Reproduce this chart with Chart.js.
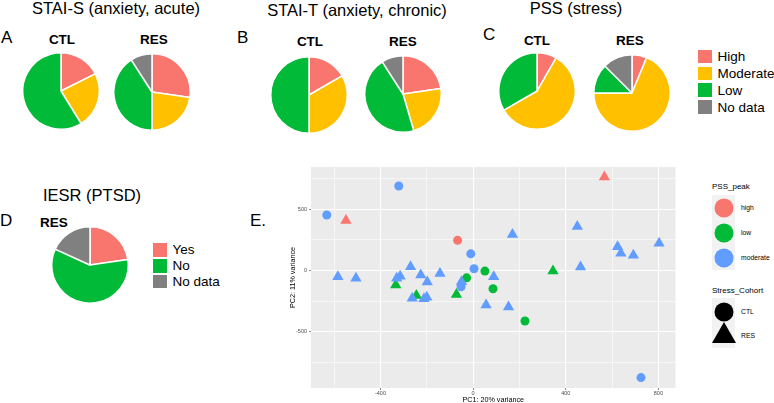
<!DOCTYPE html>
<html lang="en">
<head>
<meta charset="UTF-8" />
<title>Questionnaire pies and PCA</title>
<script src="https://cdn.jsdelivr.net/npm/chart.js"></script>
<style>
  body {
    margin: 0;
    width: 774px;
    height: 403px;
    overflow: hidden;
    background: #fff;
    position: relative;
    font-family: "Liberation Sans", Arial, sans-serif;
    color: #000;
  }
  .abs { position: absolute; white-space: nowrap; line-height: 1; }
  .title { font-size: 16.5px; width: 300px; text-align: center; }
  .letter { font-size: 17px; }
  .grp { font-size: 13.5px; font-weight: bold; width: 60px; text-align: center; }
  canvas.pie { position: absolute; }
  .lg { position: absolute; font-size: 13.5px; }
  .lg .row { display: flex; align-items: center; }
  .lg .box { width: 13.5px; height: 13.5px; margin-right: 6px; }
  /* PCA legend */
  .pl { position: absolute; color: #000; }
  .pl .ttl { font-size: 8px; line-height: 1; }
  .pl .lab { position: absolute; font-size: 6.8px; left: 29px; line-height: 1; transform: translateY(-50%); }
  .keybg { position: absolute; background: #f2f2f2; width: 23px; }
  .dot { position: absolute; border-radius: 50%; width: 19px; height: 19px; transform: translate(-50%, -50%); }
  .tri { position: absolute; width: 0; height: 0; border-left: 12.5px solid transparent;
         border-right: 12.5px solid transparent; border-bottom: 21.7px solid #000; }
</style>
</head>
<body>

<!-- panel titles -->
<div class="abs title" style="left:-34px; top:0px">STAI-S (anxiety, acute)</div>
<div class="abs title" style="left:207px; top:2px">STAI-T (anxiety, chronic)</div>
<div class="abs title" style="left:426px; top:0px">PSS (stress)</div>
<div class="abs title" style="left:-58px; top:187px">IESR (PTSD)</div>

<div class="abs letter" style="left:1px; top:29px">A</div>
<div class="abs letter" style="left:237px; top:29px">B</div>
<div class="abs letter" style="left:483px; top:26px">C</div>
<div class="abs letter" style="left:0px; top:212px">D</div>
<div class="abs letter" style="left:250px; top:212px">E.</div>

<div class="abs grp" style="left:32px; top:33px">CTL</div>
<div class="abs grp" style="left:124px; top:33px">RES</div>
<div class="abs grp" style="left:280px; top:35px">CTL</div>
<div class="abs grp" style="left:373px; top:35px">RES</div>
<div class="abs grp" style="left:507px; top:34px">CTL</div>
<div class="abs grp" style="left:600px; top:34px">RES</div>
<div class="abs grp" style="left:24px; top:216px">RES</div>

<canvas class="pie" id="pieSctl" width="78" height="78" style="left:22px; top:52px"></canvas>
<canvas class="pie" id="pieSres" width="78" height="78" style="left:113px; top:53px"></canvas>
<canvas class="pie" id="pieTctl" width="78" height="78" style="left:270px; top:56px"></canvas>
<canvas class="pie" id="pieTres" width="78" height="78" style="left:364px; top:55px"></canvas>
<canvas class="pie" id="piePctl" width="78" height="78" style="left:498px; top:52px"></canvas>
<canvas class="pie" id="piePres" width="78" height="78" style="left:593px; top:54px"></canvas>
<canvas class="pie" id="pieIres" width="78" height="78" style="left:51px; top:226px"></canvas>

<div class="lg" id="levelLegend" style="left:698px; top:48px"></div>
<div class="lg" id="iesrLegend" style="left:153px; top:242px"></div>

<!-- PCA scatter -->
<canvas id="pcaChart" width="398" height="250" style="position:absolute; left:284px; top:160px"></canvas>

<div class="pl" style="left:712px; top:0px">
  <div class="ttl" style="position:absolute; top:183px">PSS_peak</div>
  <div class="keybg" style="top:195px; height:75px"></div>
  <div class="dot" style="left:11.5px; top:208px; background:#F8766D"></div>
  <div class="dot" style="left:11.5px; top:232.5px; background:#00BA38"></div>
  <div class="dot" style="left:11.5px; top:257.5px; background:#619CFF"></div>
  <div class="lab" style="top:208px">high</div>
  <div class="lab" style="top:232.5px">low</div>
  <div class="lab" style="top:257.5px">moderate</div>

  <div class="ttl" style="position:absolute; top:287px">Stress_Cohort</div>
  <div class="keybg" style="top:298px; height:50px"></div>
  <div class="dot" style="left:11.5px; top:312px; background:#000"></div>
  <div class="tri" style="left:-0.5px; top:321.5px"></div>
  <div class="lab" style="top:312px">CTL</div>
  <div class="lab" style="top:336px">RES</div>
</div>

<script>
  Chart.defaults.font.family = "'Liberation Sans', Arial, sans-serif";
  Chart.defaults.animation = false;

  // ---- questionnaire pies (counts per level) ----
  const levelLabels = ["High", "Moderate", "Low", "No data"];
  const levelColors = ["#F8766D", "#FFC000", "#00BA38", "#808080"];

  const staiS_CTL = [3, 4, 10, 0];
  const staiS_RES = [6, 5, 9, 2];
  const staiT_CTL = [3, 6, 9, 0];
  const staiT_RES = [5, 5, 10, 2];
  const pss_CTL = [1, 7, 4, 0];
  const pss_RES = [1, 11, 2, 2];

  const iesrLabels = ["Yes", "No", "No data"];
  const iesrColors = ["#F8766D", "#00BA38", "#808080"];
  const iesr_RES = [5, 13, 4];

  // ---- PCA samples ----
  const pc1 = [
    -632, -321, -67, -10, 4, -52, 725, 51, -28, 86, 224,
    -549, 567, -334, -245, -72, 345,
    -584, -506, -270, -315, -330, -226, -198, -263, -212, -200, -143,
    -50, 89, 56, 153, 170, 450, 464, 624, 638, 692, 803
  ];
  const pc2 = [
    453, 689, 246, 136, 14, -133, -873, -5, -60, -149, -412,
    407, 762, -119, -203, -195, -5,
    -51, -64, 30, -46, -63, -37, -94, -227, -230, -218, -24,
    -92, -51, -281, -298, 293, 358, 28, 193, 141, 125, 223
  ];
  const pssPeak = [
    "moderate", "moderate", "high", "moderate", "moderate", "moderate", "moderate", "low", "low", "low", "low",
    "high", "high", "low", "low", "low", "low",
    "moderate", "moderate", "moderate", "moderate", "moderate", "moderate", "moderate", "moderate", "moderate", "moderate", "moderate",
    "moderate", "moderate", "moderate", "moderate", "moderate", "moderate", "moderate", "moderate", "moderate", "moderate", "moderate"
  ];
  const cohort = [
    "CTL", "CTL", "CTL", "CTL", "CTL", "CTL", "CTL", "CTL", "CTL", "CTL", "CTL",
    "RES", "RES", "RES", "RES", "RES", "RES",
    "RES", "RES", "RES", "RES", "RES", "RES", "RES", "RES", "RES", "RES", "RES",
    "RES", "RES", "RES", "RES", "RES", "RES", "RES", "RES", "RES", "RES", "RES"
  ];

  const pcaXTicks = [-400, 0, 400, 800];
  const pcaXMinor = [-600, -200, 200, 600];
  const pcaYTicks = [-500, 0, 500];
  const pcaYMinor = [-750, -250, 250, 750];

  const pssColors = { high: "#F8766D", low: "#00BA38", moderate: "#619CFF" };

  function makePie(id, values, colors) {
    new Chart(document.getElementById(id), {
      type: "pie",
      data: {
        labels: colors === levelColors ? levelLabels : iesrLabels,
        datasets: [{
          data: values,
          backgroundColor: colors,
          borderColor: "#ffffff",
          borderWidth: 1.5,
        }],
      },
      options: {
        responsive: false,
        events: [],
        plugins: { legend: { display: false }, tooltip: { enabled: false } },
      },
    });
  }

  makePie("pieSctl", staiS_CTL, levelColors);
  makePie("pieSres", staiS_RES, levelColors);
  makePie("pieTctl", staiT_CTL, levelColors);
  makePie("pieTres", staiT_RES, levelColors);
  makePie("piePctl", pss_CTL, levelColors);
  makePie("piePres", pss_RES, levelColors);
  makePie("pieIres", iesr_RES, iesrColors);

  function fillLegend(id, labels, colors, rowH) {
    const el = document.getElementById(id);
    labels.forEach((lab, i) => {
      const row = document.createElement("div");
      row.className = "row";
      row.style.height = rowH + "px";
      row.innerHTML = `<div class="box" style="background:${colors[i]}"></div><span>${lab}</span>`;
      el.appendChild(row);
    });
  }
  fillLegend("levelLegend", levelLabels, levelColors, 16.9);
  fillLegend("iesrLegend", iesrLabels, iesrColors, 15.9);

  // scatter datasets, first one is drawn on top
  const groups = [
    ["moderate", "CTL"], ["moderate", "RES"],
    ["high", "CTL"], ["high", "RES"],
    ["low", "CTL"], ["low", "RES"],
  ];
  const datasets = groups.map(([pss, coh]) => {
    const pts = [];
    pc1.forEach((x, i) => {
      if (pssPeak[i] === pss && cohort[i] === coh) pts.push({ x: x, y: pc2[i] });
    });
    return {
      label: pss + " " + coh,
      data: pts,
      backgroundColor: pssColors[pss],
      borderWidth: 0,
      pointStyle: coh === "CTL" ? "circle" : "triangle",
      pointRadius: coh === "CTL" ? 4.5 : 6.5,
    };
  });

  const panelBg = {
    id: "panelBg",
    beforeDraw(chart) {
      const a = chart.chartArea;
      const ctx = chart.ctx;
      ctx.save();
      ctx.fillStyle = "#EBEBEB";
      ctx.fillRect(a.left, a.top, a.width, a.height);
      ctx.restore();
    },
  };

  function gridFor(major) {
    return {
      color: "#ffffff",
      lineWidth: (c) => (major.includes(c.tick.value) ? 1.1 : 0.55),
      tickColor: (c) => (major.includes(c.tick.value) ? "#333333" : "rgba(0,0,0,0)"),
      tickWidth: 0.6,
      tickLength: 2,
    };
  }

  new Chart(document.getElementById("pcaChart"), {
    type: "scatter",
    data: { datasets: datasets },
    options: {
      responsive: false,
      events: [],
      layout: { padding: { top: 7, right: 0, left: 0, bottom: 0 } },
      plugins: { legend: { display: false }, tooltip: { enabled: false } },
      scales: {
        x: {
          min: -700,
          max: 874,
          afterBuildTicks: (s) => {
            s.ticks = pcaXMinor.concat(pcaXTicks).sort((a, b) => a - b).map((v) => ({ value: v }));
          },
          afterFit: (s) => { s.height = 22; },
          grid: gridFor(pcaXTicks),
          border: { display: false },
          ticks: {
            autoSkip: false,
            maxRotation: 0,
            padding: 0,
            color: "#4D4D4D",
            font: { size: 5.5 },
            callback: (v) => (pcaXTicks.includes(v) ? String(v) : ""),
          },
          title: {
            display: true,
            text: "PC1: 20% variance",
            color: "#000",
            font: { size: 7.2 },
            padding: { top: 0, bottom: 6 },
          },
        },
        y: {
          min: -958,
          max: 844,
          afterBuildTicks: (s) => {
            s.ticks = pcaYMinor.concat(pcaYTicks).sort((a, b) => a - b).map((v) => ({ value: v }));
          },
          afterFit: (s) => { s.width = 27; },
          grid: gridFor(pcaYTicks),
          border: { display: false },
          ticks: {
            autoSkip: false,
            padding: 2,
            color: "#4D4D4D",
            font: { size: 5.5 },
            callback: (v) => (pcaYTicks.includes(v) ? String(v) : ""),
          },
          title: {
            display: true,
            text: "PC2: 11% variance",
            color: "#000",
            font: { size: 7.2 },
            padding: { top: 5, bottom: 0 },
          },
        },
      },
    },
    plugins: [panelBg],
  });
</script>
</body>
</html>
